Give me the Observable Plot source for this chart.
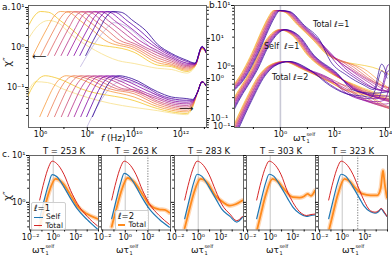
<!DOCTYPE html>
<html>
<head>
<meta charset="utf-8">
<script src="https://cdn.jsdelivr.net/npm/d3@7"></script>
<script src="https://cdn.jsdelivr.net/npm/@observablehq/plot@0.6"></script>
<style>
html,body{margin:0;padding:0;background:#fff;}
#fig{position:relative;width:392px;height:258px;overflow:hidden;background:#fff;font-family:"DejaVu Sans",sans-serif;color:#111;}
.lab{position:absolute;font-size:9px;line-height:1;white-space:nowrap;}
.ss{position:relative;display:inline-block;width:11px;height:9px;vertical-align:top;margin-left:0.5px;}
.ss .sp{position:absolute;left:0;top:-2px;font-size:5px;line-height:1;}
.ss .sb{position:absolute;left:0;top:4.5px;font-size:5px;line-height:1;}
.leg{position:absolute;background:rgba(255,255,255,0.85);border:0.8px solid #cfcfcf;border-radius:2px;font-size:7.5px;line-height:1;padding:1px 2px;box-sizing:border-box;}
.leg .row{display:flex;align-items:center;height:8.4px;}
.leg .sw{display:inline-block;width:9px;margin-right:3px;}
</style>
</head>
<body>
<div id="fig"></div>
<script>
// ================= DATA =================
// Panel a / b : temperature series (cold -> hot), plasma-like colours
const curveColors = ["#f4c52a","#f89a3e","#ee7d52","#df6363","#cc4977","#b83289","#a01a9c","#8707a6","#6100a7","#2f0596"];
const paleYellow = "#f7e08a";
const paleLavender = "#bcb3e0";
// log10 peak frequency (Hz) of Total l=1 (upper set) and Total l=2 (lower set)
const peakLogF1 = [5.9, 6.75, 7.08, 7.38, 7.67, 7.95, 8.22, 8.5, 8.75, 9.0];
const peakLogF2 = [6.05, 6.95, 7.28, 7.58, 7.87, 8.15, 8.42, 8.7, 8.95, 9.2];
// peak shape: [log10 f - peak, log10 chi'']
const shapeA1 = [[-1.07,-0.2],[-0.75,0.17],[-0.45,0.5],[-0.2,0.76],[0.1,0.9],[0.45,0.88],[0.95,0.67],[1.5,0.42],[2.0,0.18]];
const shapeA2 = [[-0.98,-0.95],[-0.7,-0.58],[-0.4,-0.22],[-0.15,-0.02],[0.15,0.07],[0.7,0.0],[1.7,-0.26]];
// high-frequency tails (log10 chi'') at fixed log10 f
const tailF1 = [10.0, 11.0, 11.6, 12.25, 12.6, 12.9, 13.1];
const tail1 = [
  [-0.12,-0.44,-0.48,-0.6,-0.47,-0.03,-0.15],
  [-0.05,-0.38,-0.45,-0.57,-0.46,-0.02,-0.15],
  [0.0,-0.32,-0.42,-0.54,-0.45,-0.01,-0.15],
  [0.05,-0.26,-0.38,-0.51,-0.45,0.0,-0.15],
  [0.1,-0.2,-0.34,-0.48,-0.44,0.0,-0.15],
  [0.17,-0.14,-0.3,-0.45,-0.43,0.01,-0.15],
  [null,-0.08,-0.26,-0.42,-0.42,0.01,-0.15],
  [null,-0.02,-0.22,-0.39,-0.41,0.02,-0.15],
  [null,0.03,-0.18,-0.35,-0.4,0.02,-0.15],
  [null,0.08,-0.15,-0.32,-0.39,0.03,-0.15]
];
const tailF2 = [10.0, 11.0, 11.6, 12.25, 12.5, 12.7, 12.9, 13.1];
const tail2 = [
  [-0.55,-0.75,-0.83,-0.87,-0.7,-0.35,-0.08,-0.2],
  [-0.46,-0.7,-0.79,-0.83,-0.68,-0.35,-0.08,-0.2],
  [-0.38,-0.65,-0.75,-0.79,-0.66,-0.35,-0.08,-0.2],
  [-0.33,-0.6,-0.71,-0.75,-0.64,-0.35,-0.08,-0.2],
  [-0.28,-0.56,-0.67,-0.71,-0.62,-0.35,-0.08,-0.2],
  [null,-0.51,-0.63,-0.67,-0.6,-0.35,-0.08,-0.2],
  [null,-0.47,-0.59,-0.63,-0.58,-0.35,-0.08,-0.2],
  [null,-0.42,-0.55,-0.59,-0.56,-0.35,-0.08,-0.2],
  [null,-0.38,-0.5,-0.54,-0.54,-0.35,-0.08,-0.2],
  [null,-0.33,-0.46,-0.5,-0.52,-0.35,-0.08,-0.2]
];
// pale curves of panel a [log10 f, log10 chi'']
const paleYellowUpper = [[5.49,0.225],[5.9,0.55],[6.34,0.675],[6.8,0.6],[7.2,0.38],[8.35,-0.075],[9.33,-0.33],[10.0,-0.4],[11.0,-0.52],[11.6,-0.55],[12.25,-0.64],[12.6,-0.48],[12.9,-0.04],[13.1,-0.15]];
const paleLavUpper = [[7.71,-0.475],[8.2,0.0],[8.7,0.4],[9.15,0.62],[9.6,0.55],[10.2,0.28],[10.8,-0.05],[11.3,-0.2],[11.6,-0.26],[12.25,-0.4],[12.6,-0.43],[12.9,0.0],[13.1,-0.15]];
const paleYellowLower = [[5.49,-0.3],[5.8,-0.08],[6.3,-0.1],[7.0,-0.27],[8.0,-0.47],[9.0,-0.62],[10.0,-0.72],[11.0,-0.8],[11.6,-0.86],[12.25,-0.9],[12.5,-0.72],[12.7,-0.38],[12.9,-0.1],[13.1,-0.22]];
const paleLavLower = [[7.95,-1.25],[8.5,-0.62],[9.0,-0.22],[9.5,-0.06],[10.1,-0.12],[11.0,-0.42],[11.6,-0.52],[12.25,-0.56],[12.5,-0.55],[12.7,-0.37],[12.9,-0.08],[13.1,-0.2]];
// Panel b: master shapes [log10 omega tau, log10 chi'']
const bShapeTotal1 = [[-1.85,-0.4],[-1.55,-0.26],[-0.96,0.21],[-0.59,0.59],[-0.37,0.79],[-0.15,0.917],[0.2,0.9],[0.75,0.67],[1.33,0.42],[1.85,0.18]];
const bShapeSelf = [[-1.85,-0.72],[-1.7,-0.59],[-1.0,-0.07],[-0.52,0.37],[0.05,0.6],[0.55,0.5],[1.1,0.18],[1.96,-0.12]];
const bShapeTotal2 = [[-1.75,-1.1],[-1.2,-0.57],[-0.72,-0.17],[-0.35,0.0],[0.2,0.074],[0.9,-0.05],[1.9,-0.26],[2.5,-0.4]];
const bSpread = [-0.1,-0.08,-0.05,-0.03,0.0,0.02,0.05,0.08,0.11,0.14];
const bTauOffset = -0.15;
const selfTailW = [2.7, 3.4, 4.1];
const selfTail = [[-0.3,-0.42,-0.52],[-0.31,-0.44,-0.55],[-0.32,-0.45,-0.57],[-0.33,-0.47,-0.58],[-0.34,-0.48,-0.6],[-0.35,-0.5,-0.6],[-0.36,-0.5,-0.58],[-0.37,-0.5,-0.55],[-0.38,-0.48,-0.5],[-0.4,-0.45,-0.42]];
// Panel c
const cTitles = ["T = 253 K","T = 263 K","T = 283 K","T = 303 K","T = 323 K"];
const cSelf = [
  [[-1.2,-0.35],[-0.8,0.05],[-0.4,0.4],[-0.1,0.59],[0.3,0.55],[0.94,0.33],[1.54,0.08],[2.13,-0.14],[3.0,-0.37],[3.9,-0.57]],
  [[-1.2,-0.35],[-0.8,0.05],[-0.4,0.42],[-0.1,0.62],[0.3,0.57],[0.94,0.34],[1.54,0.08],[2.13,-0.14],[3.0,-0.36],[3.9,-0.53]],
  [[-1.2,-0.35],[-0.8,0.05],[-0.4,0.42],[-0.1,0.6],[0.3,0.56],[0.94,0.33],[1.54,0.08],[2.1,-0.15],[2.8,-0.3],[3.4,-0.42],[3.9,-0.32]],
  [[-1.2,-0.35],[-0.8,0.05],[-0.4,0.42],[-0.1,0.6],[0.3,0.56],[0.94,0.33],[1.54,0.08],[2.0,-0.1],[2.6,-0.24],[3.2,-0.3],[3.6,-0.28],[3.95,-0.27]],
  [[-1.2,-0.35],[-0.8,0.05],[-0.4,0.42],[-0.1,0.6],[0.3,0.56],[0.94,0.33],[1.54,0.08],[1.9,-0.07],[2.5,-0.2],[2.9,-0.23],[3.2,-0.2],[3.45,-0.14],[3.7,-0.22],[3.95,-0.3]]
];
const cTotal1 = [
  [[-1.2,0.05],[-0.8,0.45],[-0.4,0.76],[-0.1,0.88],[0.3,0.83],[0.94,0.6],[1.54,0.25],[2.13,-0.03],[3.0,-0.3],[3.9,-0.5]],
  [[-1.2,0.05],[-0.8,0.45],[-0.4,0.76],[-0.1,0.88],[0.3,0.83],[0.94,0.6],[1.54,0.25],[2.13,-0.03],[3.0,-0.28],[3.9,-0.47]],
  [[-1.2,0.05],[-0.8,0.45],[-0.4,0.76],[-0.1,0.88],[0.3,0.83],[0.94,0.6],[1.54,0.25],[2.1,-0.05],[2.8,-0.25],[3.4,-0.39],[3.9,-0.3]],
  [[-1.2,0.05],[-0.8,0.45],[-0.4,0.76],[-0.1,0.88],[0.3,0.83],[0.94,0.6],[1.54,0.22],[2.0,0.0],[2.6,-0.2],[3.2,-0.28],[3.6,-0.26],[3.95,-0.25]],
  [[-1.2,0.05],[-0.8,0.45],[-0.4,0.76],[-0.1,0.88],[0.3,0.83],[0.94,0.6],[1.54,0.25],[1.9,0.05],[2.5,-0.18],[2.9,-0.21],[3.2,-0.18],[3.45,-0.13],[3.7,-0.2],[3.95,-0.3]]
];
const cTotal2 = [
  [[-1.2,-0.52],[-0.8,-0.15],[-0.4,0.2],[0.2,0.5],[0.8,0.42],[1.5,0.17],[2.13,-0.08],[3.0,-0.25],[3.9,-0.35]],
  [[-1.2,-0.52],[-0.8,-0.15],[-0.4,0.2],[0.2,0.52],[0.8,0.43],[1.5,0.18],[2.13,-0.05],[3.0,-0.15],[3.5,-0.16],[3.9,-0.22]],
  [[-1.2,-0.55],[-0.8,-0.17],[-0.4,0.19],[0.2,0.5],[0.8,0.42],[1.5,0.15],[2.2,0.0],[2.8,-0.07],[3.3,-0.04],[3.9,0.04]],
  [[-1.2,-0.62],[-0.8,-0.22],[-0.4,0.16],[0.2,0.5],[0.7,0.44],[1.1,0.32],[2.0,0.11],[2.6,0.1],[3.0,0.13],[3.3,0.18],[3.6,0.14],[3.95,0.25]],
  [[-1.2,-0.62],[-0.8,-0.22],[-0.4,0.16],[0.2,0.5],[0.7,0.44],[1.1,0.32],[1.8,0.18],[2.5,0.15],[3.1,0.15],[3.4,0.3],[3.6,0.68],[3.75,0.4],[3.95,0.1]]
];
const cMarker = [null, 2, null, null, 1.37];
const unitLine = [1];
const cLefts = [29, 101.3, 173.6, 246, 318.2];

// ================= HELPERS =================
const supMap = {"-":"⁻","0":"⁰","1":"¹","2":"²","3":"³","4":"⁴","5":"⁵","6":"⁶","7":"⁷","8":"⁸","9":"⁹"};
const fmtSup = v => "10" + String(Math.round(Math.log10(v))).split("").map(c => supMap[c]).join("");
const blank = () => "";
const minors = (a, b) => { const t = []; for (let e = a; e < b; e++) for (let m = 2; m < 10; m++) t.push(m * 10 ** e); return t; };
const pts = (knots, k, c) => knots.map(([lx, ly]) => ({x: 10 ** lx, y: 10 ** ly, k, c}));
function joinCurve(shape, shift, tailX, tailY) {
  const tails = tailX.map((x, j) => [x, tailY[j]]).filter(d => d[1] !== null);
  const cut = tails[0][0] - 0.3;
  return shape.map(([dx, y]) => [dx + shift, y]).filter(d => d[0] <= cut).concat(tails);
}
const root = document.getElementById("fig");
const baseStyle = "background:transparent;overflow:visible;font-family:'DejaVu Sans',sans-serif;font-size:8px;color:#111;";
function place(svg, left, top) {
  svg.style.cssText += `;position:absolute;left:${left}px;top:${top}px;max-width:none;`;
  root.appendChild(svg);
}
const lineOpts = (w) => ({x: "x", y: "y", z: "k", stroke: "c", strokeWidth: w, curve: "monotone-x", clip: true});

// ================= PANEL A =================
const aUpper = [
  ...pts(paleYellowUpper, "py", paleYellow),
  ...pts(paleLavUpper, "pl", paleLavender),
  ...peakLogF1.flatMap((P, i) => pts(joinCurve(shapeA1, P, tailF1, tail1[i]), "u" + i, curveColors[i]))
];
const aLower = [
  ...pts(paleYellowLower, "py", paleYellow),
  ...pts(paleLavLower, "pl", paleLavender),
  ...peakLogF2.flatMap((P, i) => pts(joinCurve(shapeA2, P, tailF2, tail2[i]), "l" + i, curveColors[i]))
];
const aX = {type: "log", domain: [10 ** 5.487, 10 ** 13.09], label: null};
const pa1 = Plot.plot({
  width: 210, height: 145, marginTop: 5, marginLeft: 28, marginRight: 4, marginBottom: 18,
  style: baseStyle,
  x: aX,
  y: {type: "log", domain: [10 ** -2, 10 ** 1.05], label: null},
  color: {type: "identity"},
  marks: [
    Plot.line(aUpper, lineOpts(0.8)),
    Plot.frame({stroke: "#555", strokeWidth: 0.9}),
    Plot.axisX({ticks: [1e6, 1e8, 1e10, 1e12], tickFormat: fmtSup, tickSize: 3, tickPadding: 1, label: null}),
    Plot.axisX({ticks: [1e7, 1e9, 1e11, 1e13], tickFormat: blank, tickSize: 2, label: null}),
    Plot.axisY({ticks: [0.1, 1, 10], tickFormat: fmtSup, tickSize: 3, tickPadding: 1, label: null}),
    Plot.axisY({ticks: minors(-2, 1).filter(v => v <= 11), tickFormat: blank, tickSize: 1.8, label: null})
  ]
});
place(pa1, 0, 0);
const pa2 = Plot.plot({
  width: 240, height: 145, marginTop: 5, marginLeft: 28, marginRight: 34, marginBottom: 18,
  style: baseStyle,
  x: {...aX, axis: null},
  y: {type: "log", domain: [10 ** -1.22, 10 ** 1.82], label: null},
  color: {type: "identity"},
  marks: [
    Plot.line(aLower, lineOpts(0.8)),
    Plot.axisY({anchor: "right", ticks: [0.1, 1, 10], tickFormat: fmtSup, tickSize: 3, tickPadding: 1, label: null}),
    Plot.axisY({anchor: "right", ticks: minors(-2, 2).filter(v => v >= 0.06 && v <= 66), tickFormat: blank, tickSize: 1.8, label: null})
  ]
});
place(pa2, 0, 0);

// ================= PANEL B =================
const bData = [];
peakLogF1.forEach((P, i) => {
  bData.push(...pts(joinCurve(bShapeTotal2, bSpread[i], tailF2.map(f => f - P + bTauOffset), tail2[i]), "t2" + i, curveColors[i]));
  bData.push(...pts(joinCurve(bShapeSelf, bSpread[i], selfTailW, selfTail[i]), "s" + i, curveColors[i]));
  bData.push(...pts(joinCurve(bShapeTotal1, bSpread[i], tailF1.map(f => f - P + bTauOffset), tail1[i]), "t1" + i, curveColors[i]));
});
const pb = Plot.plot({
  width: 202, height: 145, marginTop: 5, marginLeft: 44, marginRight: 3, marginBottom: 18,
  style: baseStyle,
  x: {type: "log", domain: [10 ** -1.70, 10 ** 4.04], label: null},
  y: {type: "log", domain: [10 ** -1.017, 10 ** 1.0], label: null},
  color: {type: "identity"},
  marks: [
    Plot.ruleX(unitLine, {stroke: "#c9c9d6", strokeWidth: 1.6}),
    Plot.line(bData, lineOpts(0.7)),
    Plot.frame({stroke: "#555", strokeWidth: 0.9}),
    Plot.axisX({ticks: [1, 100], tickFormat: fmtSup, tickSize: 3, tickPadding: 1, label: null}),
    Plot.axisX({ticks: [1e4], tickFormat: fmtSup, tickSize: 3, tickPadding: 1, dx: -3, label: null}),
    Plot.axisX({ticks: [0.1, 10, 1000], tickFormat: blank, tickSize: 2, label: null}),
    Plot.axisY({ticks: [0.1, 1, 10], tickFormat: fmtSup, tickSize: 3, tickPadding: 1, label: null}),
    Plot.axisY({ticks: minors(-1, 1), tickFormat: blank, tickSize: 1.8, label: null})
  ]
});
place(pb, 190, 0);

// ================= PANEL C =================
cTitles.forEach((title, j) => {
  const mL = j === 0 ? 29 : 3;
  const marks = [Plot.ruleX(unitLine, {stroke: "#d0d0d0", strokeWidth: 1.2})];
  if (cMarker[j] !== null) marks.push(Plot.ruleX([10 ** cMarker[j]], {stroke: "#777", strokeWidth: 1, strokeDasharray: "1.2,1.4"}));
  marks.push(
    Plot.line(pts(cTotal2[j], "o", "#ff7f0e"), {...lineOpts(4.5), strokeOpacity: 0.3}),
    Plot.line(pts(cTotal2[j], "o", "#ff8a1c"), lineOpts(1.8)),
    Plot.line(pts(cSelf[j], "s", "#1f77b4"), lineOpts(1.2)),
    Plot.line(pts(cTotal1[j], "t", "#d62728"), lineOpts(1.0)),
    Plot.frame({stroke: "#555", strokeWidth: 0.9}),
    Plot.text([title], {text: d => d, frameAnchor: "top", dy: -2, lineAnchor: "bottom", fontSize: 8.5}),
    Plot.axisX({ticks: [0.01, 1, 100], tickFormat: fmtSup, tickSize: 3, tickPadding: 1, label: null}),
    Plot.axisX({ticks: [0.1, 10, 1000, 1e4], tickFormat: blank, tickSize: 2, label: null}),
    Plot.axisY({ticks: [1, 10], tickFormat: j === 0 ? fmtSup : blank, tickSize: 3, tickPadding: 1, label: null}),
    Plot.axisY({ticks: minors(-1, 1).filter(v => v >= 0.26), tickFormat: blank, tickSize: 1.8, label: null})
  );
  const p = Plot.plot({
    width: mL + 69 + 3, height: 118, marginTop: 15, marginLeft: mL, marginRight: 3, marginBottom: 28.5,
    style: baseStyle,
    x: {type: "log", domain: [10 ** -2.1, 10 ** 4.0], label: null},
    y: {type: "log", domain: [10 ** -0.59, 10 ** 1.0], label: null},
    color: {type: "identity"},
    marks
  });
  place(p, cLefts[j] - mL, 140);
});

// ================= TEXT OVERLAYS =================
function addLab(html, left, top, extra = "") {
  const d = document.createElement("div");
  d.className = "lab"; d.innerHTML = html;
  d.style.cssText += `left:${left}px;top:${top}px;${extra}`;
  root.appendChild(d); return d;
}
const omegaTau = 'ωτ<span class="ss"><span class="sp">self</span><span class="sb">1</span></span>';
addLab("a.", 2, 3);
addLab("b.", 209, 1);
addLab("c.", 2, 150);
addLab("χ″", 3, 57, "transform:rotate(-90deg);font-size:10px;");
addLab("χ″", 3, 191, "transform:rotate(-90deg);font-size:10px;");
addLab("<i>f</i> (Hz)", 101, 134);
addLab(omegaTau, 293, 134);
[43, 127, 202, 277, 353].forEach(cx => addLab(omegaTau, cx - 11, 246));
addLab("⟵", 32, 52, "font-size:10px;");
addLab("⟶", 179, 104, "font-size:10px;");
addLab("Total ℓ=1", 313, 21, "font-size:8px;");
addLab("Self  ℓ=1", 264, 43, "font-size:8px;white-space:pre;");
addLab("Total ℓ=2", 272, 74, "font-size:8px;");

// legends
function legend(left, top, w, h, title, rows) {
  const d = document.createElement("div");
  d.className = "leg";
  d.style.cssText += `left:${left}px;top:${top}px;width:${w}px;height:${h}px;`;
  let html = `<div class="row" style="font-size:8.5px;height:9px">${title}</div>`;
  rows.forEach(r => { html += `<div class="row"><span class="sw" style="border-top:${r.w}px solid ${r.c};"></span>${r.t}</div>`; });
  d.innerHTML = html; root.appendChild(d);
}
legend(31, 202, 35, 28, "ℓ=1", [{c: "#1f77b4", w: 1.4, t: "Self"}, {c: "#d62728", w: 1.2, t: "Total"}]);
legend(115, 210, 34, 20, "ℓ=2", [{c: "#ff8a1c", w: 2.6, t: "Total"}]);
</script>
</body>
</html>
